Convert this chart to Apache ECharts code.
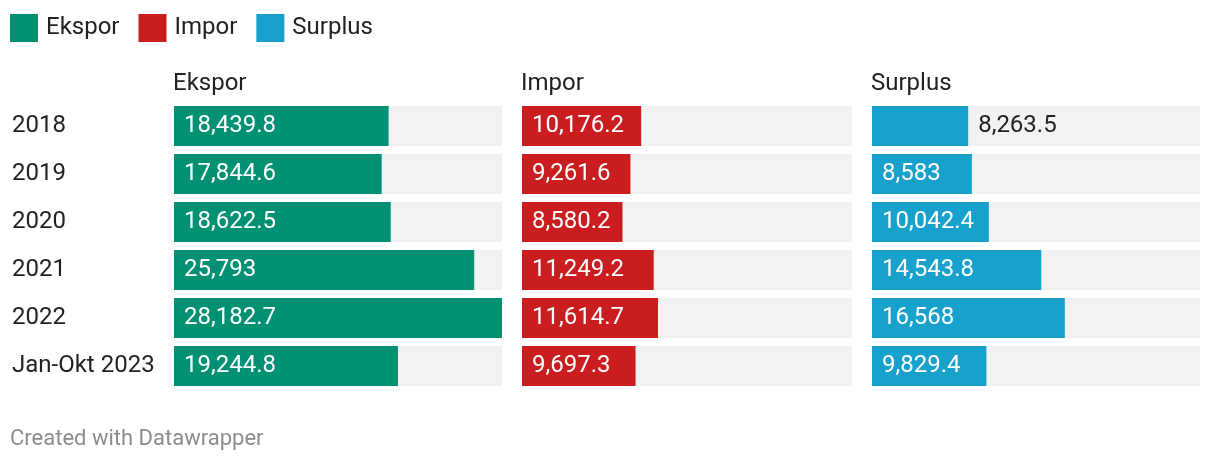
<!DOCTYPE html>
<html>
<head>
<meta charset="utf-8">
<script src="https://cdn.jsdelivr.net/npm/echarts@6/dist/echarts.min.js"></script>
<style>
html,body{margin:0;padding:0;background:#fff;}
#c{width:1220px;height:464px;}
</style>
</head>
<body>
<div id="c"></div>
<script>
const categories = ['2018', '2019', '2020', '2021', '2022', 'Jan-Okt 2023'];
const ekspor = [18439.8, 17844.6, 18622.5, 25793, 28182.7, 19244.8];
const impor = [10176.2, 9261.6, 8580.2, 11249.2, 11614.7, 9697.3];
const surplus = [8263.5, 8583, 10042.4, 14543.8, 16568, 9829.4];
const seriesNames = ['Ekspor', 'Impor', 'Surplus'];
const colors = ['#009175', '#c91d1f', '#18a1cd'];

const FONT = 'Roboto';
const LABEL_SIZE = 24;
const axisMax = Math.max(...ekspor, ...impor, ...surplus);
const grids = [
  {left: 174, width: 328},
  {left: 522, width: 330},
  {left: 872, width: 328}
];
const TOP = 102, H = 288;

const ctx = document.createElement('canvas').getContext('2d');
ctx.font = LABEL_SIZE + 'px ' + FONT;
const fmt = v => v.toLocaleString('en-US', {maximumFractionDigits: 1});

function buildData(values, gridWidth) {
  return values.map(v => {
    const txt = fmt(v);
    const barPx = v / axisMax * gridWidth;
    const fits = ctx.measureText(txt).width + 20 <= barPx;
    return {
      value: v,
      label: fits
        ? {position: 'insideLeft', distance: 10, color: '#ffffff'}
        : {position: 'right', distance: 10, color: '#222222'}
    };
  });
}

const allValues = [ekspor, impor, surplus];
const chart = echarts.init(document.getElementById('c'), null, {renderer: 'canvas'});

const option = {
  animation: false,
  textStyle: {fontFamily: FONT},
  legend: {
    left: 10, top: 14, padding: 0,
    icon: 'rect', itemWidth: 28, itemHeight: 28, itemGap: 19,
    textStyle: {fontFamily: FONT, fontSize: 24, color: '#222', padding: [0, 0, 0, 3]},
    data: seriesNames
  },
  title: [
    ...seriesNames.map((n, i) => ({
      text: n, left: grids[i].left - 1, top: 72, padding: 0,
      textStyle: {fontFamily: FONT, fontSize: 24, fontWeight: 'normal', color: '#222'}
    })),
    {
      text: 'Created with Datawrapper', left: 10, top: 428, padding: 0,
      textStyle: {fontFamily: FONT, fontSize: 22, fontWeight: 'normal', color: '#8c8c8c'}
    }
  ],
  grid: grids.map(g => ({left: g.left, width: g.width, top: TOP, height: H})),
  xAxis: grids.map((g, i) => ({
    type: 'value', gridIndex: i, min: 0, max: axisMax,
    show: false
  })),
  yAxis: grids.map((g, i) => ({
    type: 'category', gridIndex: i, data: categories, inverse: true,
    axisLine: {show: false}, axisTick: {show: false},
    axisLabel: i === 0 ? {
      show: true, align: 'left', margin: g.left - 12,
      fontFamily: FONT, fontSize: 24, color: '#222'
    } : {show: false}
  })),
  series: seriesNames.map((n, i) => ({
    name: n, type: 'bar', xAxisIndex: i, yAxisIndex: i,
    barWidth: 40,
    itemStyle: {color: colors[i]},
    showBackground: true,
    backgroundStyle: {color: '#f2f2f2'},
    label: {
      show: true, fontFamily: FONT, fontSize: LABEL_SIZE,
      formatter: p => fmt(p.value)
    },
    data: buildData(allValues[i], grids[i].width)
  }))
};
chart.setOption(option);
</script>
</body>
</html>
